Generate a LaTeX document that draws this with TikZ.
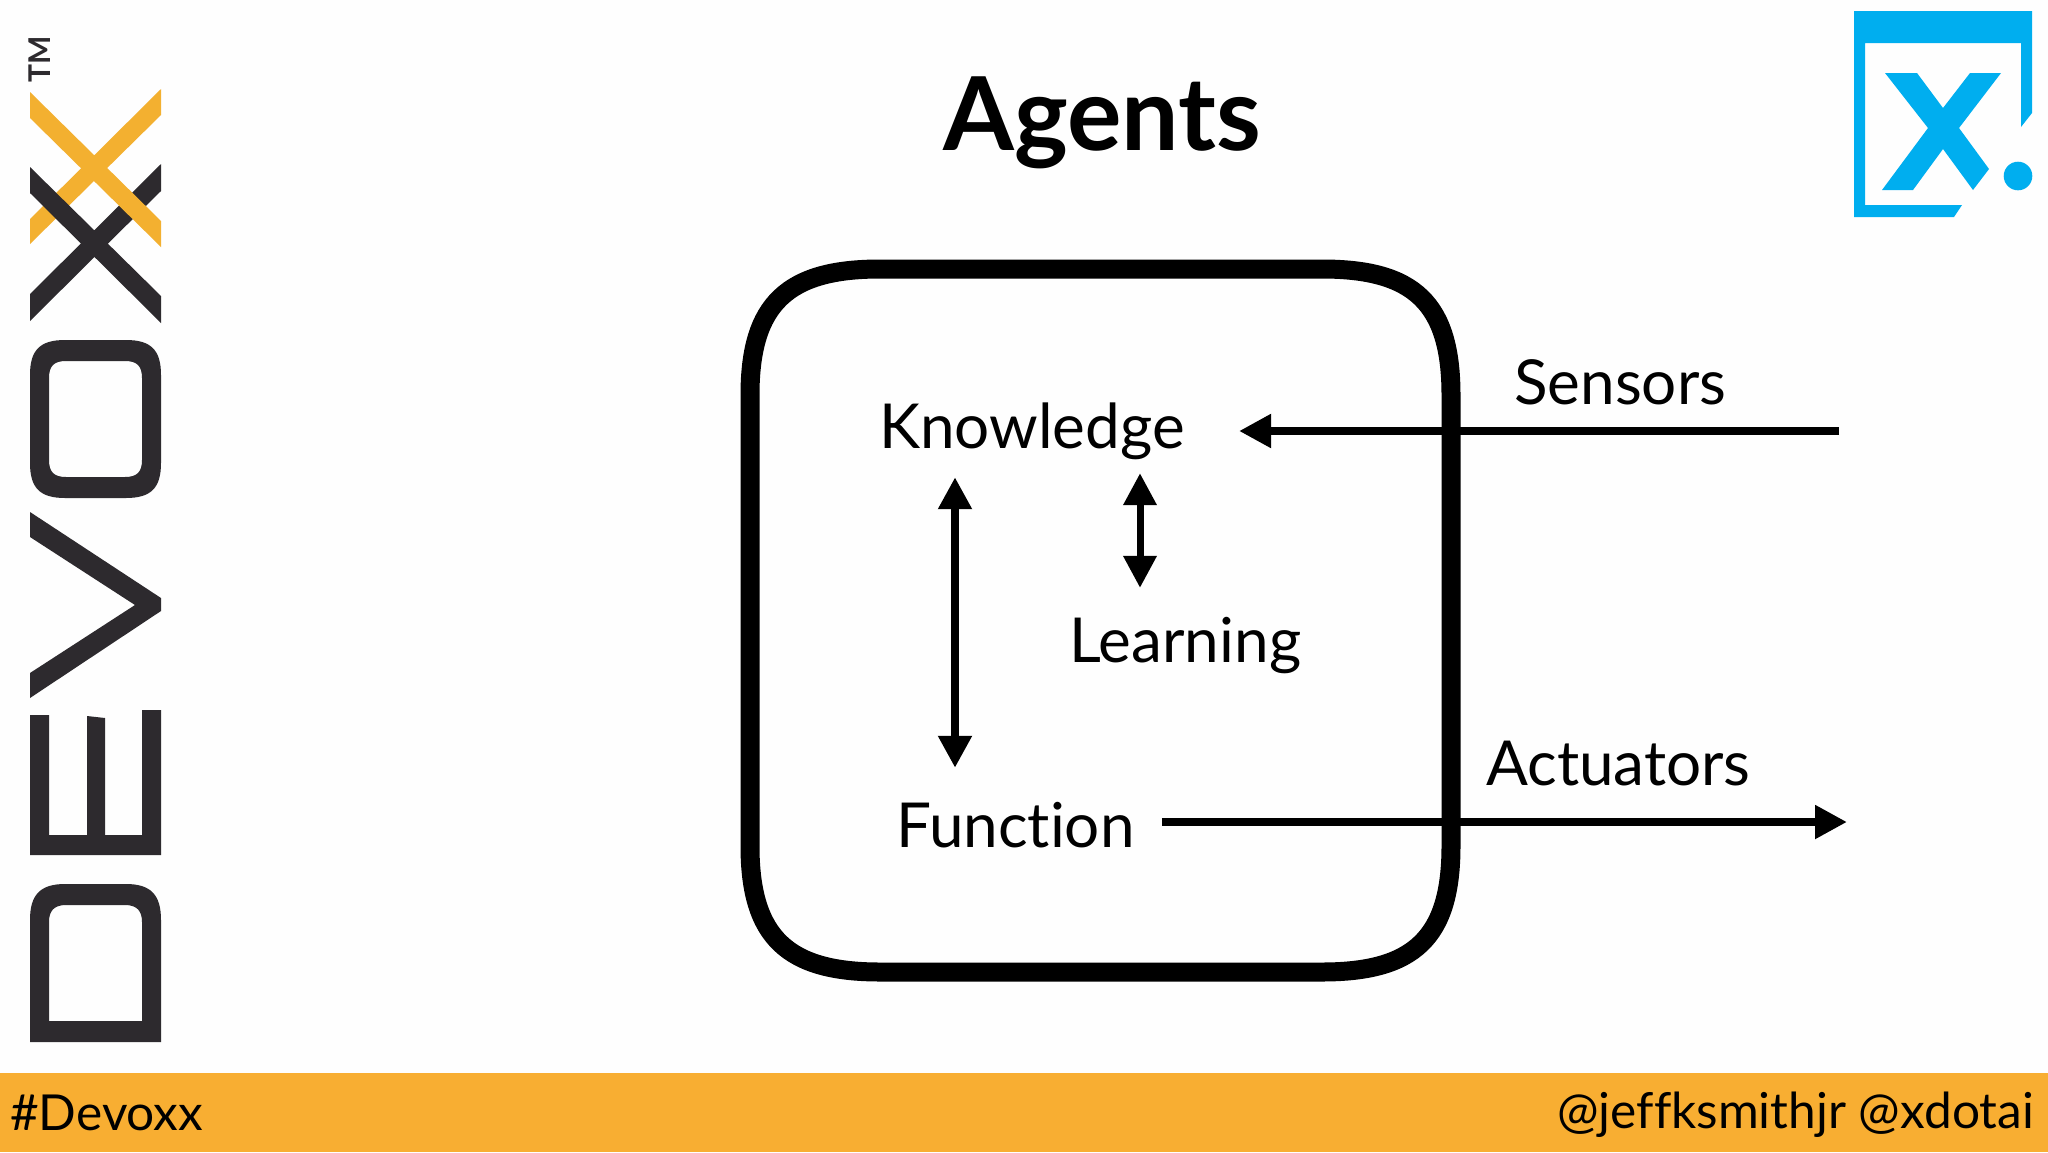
\documentclass[tikz,border=0pt]{standalone}
\usepackage{fontspec}
\setmainfont{Lato}[Ligatures=NoCommon]
\usetikzlibrary{arrows.meta}
\definecolor{hblack}{RGB}{45,42,46}
\definecolor{hyellow}{RGB}{243,176,48}
\definecolor{horange}{RGB}{248,174,50}
\definecolor{hblue}{RGB}{0,174,239}
\definecolor{hpaper}{RGB}{254,254,254}
\tikzset{
  label/.style={anchor=base west,inner sep=0pt,text height=44pt,text depth=14pt,font=\fontsize{62}{62}\selectfont},
  tag/.style={anchor=base west,inner sep=0pt,font=\fontsize{49.6}{50}\selectfont},
  biarrow/.style={line width=8pt,{Triangle[length=32pt,width=32pt]}-{Triangle[length=32pt,width=32pt]}},
  onearrow/.style={line width=8pt,-{Triangle[length=32pt,width=32pt]}},
}
\begin{document}
\begin{tikzpicture}[x=1pt,y=-1pt]
\useasboundingbox (0,0) rectangle (2048,1152);
\fill[hpaper] (0,0) rectangle (2048,1152);
\fill[horange] (0,1073) rectangle (2048,1152);
\node[tag] (hash) at (10,1130) {\#Devoxx};
\node[tag,anchor=base east] (handles) at (2034,1128) {@jeffksmithjr @xdotai};
\node[anchor=base west,inner sep=0pt,font=\fontsize{102}{102}\selectfont\bfseries] (title) at (943,150) {Agents};
% logo on the left
\node[rotate=90,anchor=center,inner sep=0pt,text=hblack,font=\fontsize{30}{30}\selectfont\bfseries] (tm) at (40,59) {TM};
\fill[hyellow] (30,219) -- (161,89) -- (161,115) -- (30,244) -- cycle;
\fill[hblack] (30,167) -- (161,296) -- (161,323) -- (30,193) -- cycle;
\fill[hblack] (161,164) -- (161,191) -- (30,321) -- (30,294) -- cycle;
\fill[hyellow] (30,92) -- (161,221) -- (161,247) -- (30,118) -- cycle;
\fill[hblack,even odd rule] (30,375) .. controls (30,350) and (40,340) .. (65,340) -- (126,340) .. controls (151,340) and (161,350) .. (161,375) -- (161,463) .. controls (161,488) and (151,498) .. (126,498) -- (65,498) .. controls (40,498) and (30,488) .. (30,463) -- cycle
  (49,378) .. controls (49,366) and (54,361) .. (66,361) -- (125,361) .. controls (137,361) and (142,366) .. (142,378) -- (142,460) .. controls (142,472) and (137,477) .. (125,477) -- (66,477) .. controls (54,477) and (49,472) .. (49,460) -- cycle;
\fill[hblack] (30,512) -- (161,598) -- (161,611) -- (30,698) -- (30,673) -- (135,605) -- (30,537) -- cycle;
\fill[hblack] (30,855) -- (161,855) -- (161,710) -- (142,710) -- (142,835) -- (105,835) -- (105,718) -- (87,716) -- (87,835) -- (49,835) -- (49,715) -- (30,715) -- cycle;
\fill[hblack,even odd rule] (30,1042) -- (161,1042) -- (161,920) .. controls (161,895) and (151,884) .. (126,884) -- (65,884) .. controls (40,884) and (30,895) .. (30,920) -- cycle
  (49,1021) -- (142,1021) -- (142,922) .. controls (142,911) and (137,905) .. (125,905) -- (66,905) .. controls (54,905) and (49,911) .. (49,922) -- cycle;
% logo on the right
\fill[hblue] (1854,11) -- (2032,11) -- (2032,113) -- (2021,127) -- (2021,43) -- (1865,43) -- (1865,205) -- (1962,205) -- (1954,217) -- (1854,217) -- cycle;
\fill[hblue] (1885,73) -- (1917,73) -- (1943,108) -- (1970,73) -- (2001,73) -- (1959,128) -- (1989,169) -- (1973,190) -- (1943,149) -- (1913,190) -- (1882,190) -- (1928,128) -- cycle;
\fill[hblue] (2018,176) circle (14.3);
% the agent
\draw[line width=19pt] (750,395) .. controls (750,303) and (788,269) .. (880,269) -- (1322,269) .. controls (1414,269) and (1451,303) .. (1451,395) -- (1451,846) .. controls (1451,938) and (1414,972) .. (1322,972) -- (880,972) .. controls (788,972) and (750,938) .. (750,846) -- cycle;
\node[label] (know) at (879,448) {Knowledge};
\node[label] (learn) at (1069,662) {Learning};
\node[label] (func) at (896,847) {Function};
\node[label] (sens) at (1514,404) {Sensors};
\node[label] (actu) at (1486,785) {Actuators};
\coordinate (sensend) at (1839,431);
\coordinate (actuend) at (1847,822);
\coordinate (knowin) at ([xshift=54pt]know.east);
\coordinate (funcout) at ([xshift=27pt]func.east);
\draw[onearrow] (sensend) -- (knowin |- sensend);
\draw[onearrow] (funcout |- actuend) -- (actuend);
\draw[biarrow] ([shift={(76pt,-15pt)}]know.south west) -- ([shift={(59pt,35pt)}]func.north west);
\draw[biarrow,line width=7pt] ([shift={(261pt,-11pt)}]know.south west) -- ([shift={(71pt,30pt)}]learn.north west);
\end{tikzpicture}
\end{document}
